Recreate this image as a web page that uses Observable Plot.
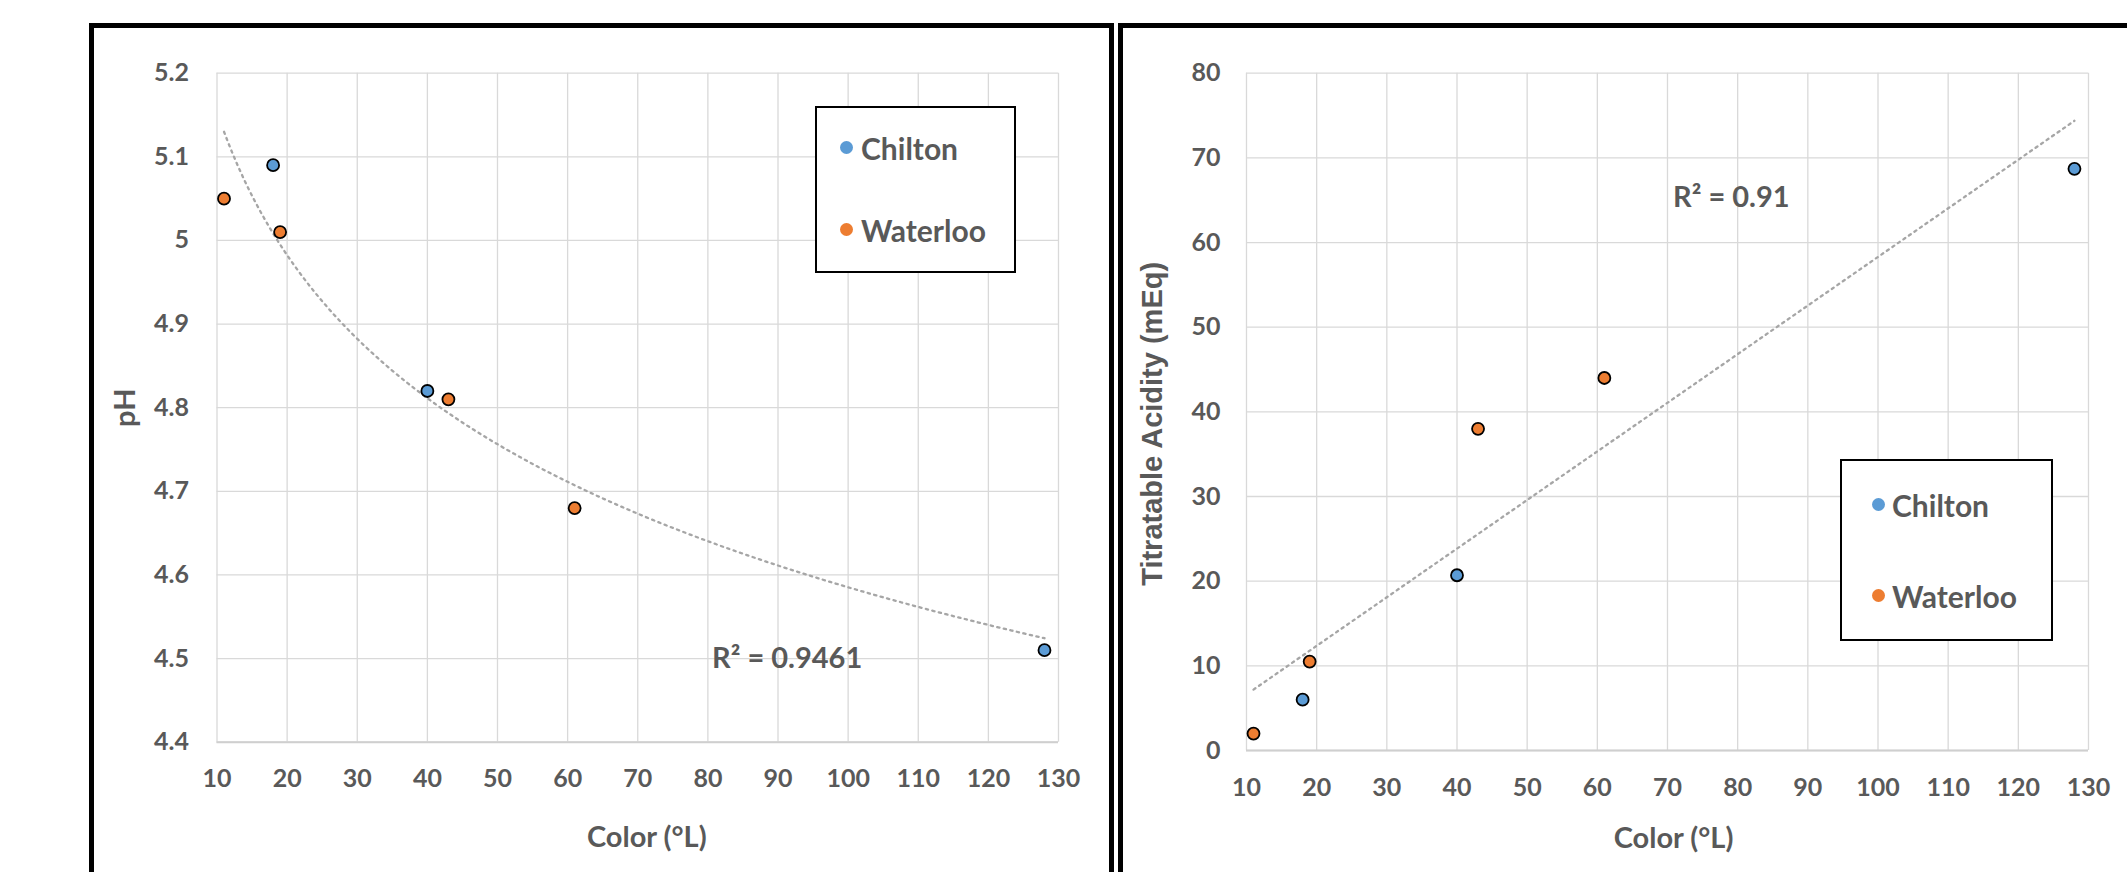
<!DOCTYPE html>
<html><head><meta charset="utf-8">
<script src="https://cdn.jsdelivr.net/npm/d3@7"></script>
<script src="https://cdn.jsdelivr.net/npm/@observablehq/plot@0.6"></script>
<style>
html,body{margin:0;padding:0;background:#fff;}
#page{position:relative;width:2127px;height:872px;overflow:hidden;background:#fff;}
.panel{position:absolute;border:5px solid #000;box-sizing:border-box;}
.chart{position:absolute;top:0;}
.legend{position:absolute;border:2.5px solid #000;background:#fff;box-sizing:border-box;}
.item{position:absolute;height:40px;display:flex;align-items:center;font:bold 30px Lato, sans-serif;color:#595959;white-space:nowrap;}
.swatch{width:13px;height:13px;border-radius:50%;flex:none;}
.ta-title text{font-family:"Liberation Sans", Arial, sans-serif !important;}
</style></head><body>
<div id="page">
  <div class="panel" style="left:89px;top:23px;width:1025px;height:900px;"></div>
  <div class="panel" style="left:1118px;top:23px;width:1100px;height:900px;"></div>
  <div id="left" class="chart" style="left:0px;"></div>
  <div id="right" class="chart" style="left:1123px;"></div>
  <div id="legL" class="legend" style="left:815px;top:106px;width:201px;height:167px;"></div>
  <div id="legR" class="legend" style="left:1840px;top:459px;width:213px;height:182px;"></div>
</div>
<script>
// ---- data ----
const seriesNames = ["Chilton", "Waterloo"];
const seriesColors = ["#5B9BD5", "#ED7D31"];
const chiltonColor = [18, 40, 128];
const chiltonPH = [5.09, 4.82, 4.51];
const chiltonTA = [6.0, 20.7, 68.7];
const waterlooColor = [11, 19, 43, 61];
const waterlooPH = [5.05, 5.01, 4.81, 4.68];
const waterlooTA = [2.0, 10.5, 38.0, 44.0];
const colorTicks = [10, 20, 30, 40, 50, 60, 70, 80, 90, 100, 110, 120, 130];
const phTicks = [4.4, 4.5, 4.6, 4.7, 4.8, 4.9, 5.0, 5.1, 5.2];
const taTicks = [0, 10, 20, 30, 40, 50, 60, 70, 80];
const xTitle = "Color (°L)";
const phTitle = "pH";
const taTitle = "Titratable Acidity (mEq)";
const r2PH = "R² = 0.9461";
const r2TA = "R² = 0.91";
// annotation anchors in data units
const r2PHAt = {x: 91.3, y: 4.5};
const r2TAAt = {x: 79.1, y: 65.3};

// ---- tables ----
const rows = [
  ...chiltonColor.map((c, i) => ({series: "Chilton", color: c, ph: chiltonPH[i], ta: chiltonTA[i]})),
  ...waterlooColor.map((c, i) => ({series: "Waterloo", color: c, ph: waterlooPH[i], ta: waterlooTA[i]}))
];

// logarithmic trendline (least squares on ln x), evaluated over data range
function logFit(data, xk, yk) {
  const lx = data.map(d => Math.log(d[xk])), ys = data.map(d => d[yk]);
  const mx = d3.mean(lx), my = d3.mean(ys);
  let sxy = 0, sxx = 0;
  lx.forEach((v, i) => { sxy += (v - mx) * (ys[i] - my); sxx += (v - mx) ** 2; });
  const b = sxy / sxx, a = my - b * mx;
  return x => a + b * Math.log(x);
}
const fPH = logFit(rows, "color", "ph");
const [xmin, xmax] = d3.extent(rows, d => d.color);
const trendPH = d3.range(0, 201).map(i => {
  const x = xmin + (xmax - xmin) * i / 200;
  return {color: x, ph: fPH(x)};
});

const grey = "#595959";
const gridColor = "#d9d9d9";
const trendStyle = {stroke: "#a6a6a6", strokeWidth: 2.3, strokeDasharray: "2.3 4.4"};
const baseStyle = {fontFamily: "Lato, sans-serif", fontSize: "25px", fontWeight: "bold", color: grey, background: "transparent", overflow: "visible"};

const left = Plot.plot({
  width: 1109, height: 872,
  marginLeft: 216.5, marginRight: 51, marginTop: 72.7, marginBottom: 130.3,
  style: baseStyle,
  x: {domain: [10, 130]},
  y: {domain: [4.4, 5.2]},
  color: {domain: seriesNames, range: seriesColors},
  marks: [
    Plot.gridX(colorTicks, {stroke: gridColor, strokeOpacity: 1, strokeWidth: 1.3}),
    Plot.gridY(phTicks, {stroke: gridColor, strokeOpacity: 1, strokeWidth: 1.3}),
    Plot.ruleY([phTicks[0]], {stroke: "#cfcfcf", strokeWidth: 2}),
    Plot.axisX({ticks: colorTicks, tickSize: 0, tickPadding: 27, label: null, fontSize: 25, fontWeight: "bold", fill: grey}),
    Plot.axisY({ticks: phTicks, tickSize: 0, tickPadding: 28, label: null, fontSize: 25, fontWeight: "bold", fill: grey, tickFormat: d => String(+d.toFixed(1))}),
    Plot.line(trendPH, {x: "color", y: "ph", ...trendStyle}),
    Plot.dot(rows, {x: "color", y: "ph", fill: "series", r: 6, stroke: "#000", strokeWidth: 1.8}),
    Plot.text([r2PH], {x: r2PHAt.x, y: r2PHAt.y, text: d => d, fontSize: 29, fontWeight: "bold", fill: grey}),
    Plot.text([xTitle], {frameAnchor: "bottom", textAnchor: "middle", dx: 9, dy: 105, text: d => d, fontSize: 29, fontWeight: "bold", fill: grey}),
    Plot.text([phTitle], {frameAnchor: "left", textAnchor: "middle", dx: -91, rotate: -90, text: d => d, fontSize: 29, fontWeight: "bold", fill: grey})
  ]
});
document.getElementById("left").appendChild(left);

const right = Plot.plot({
  width: 1004, height: 872,
  marginLeft: 123, marginRight: 39, marginTop: 72.7, marginBottom: 122,
  style: baseStyle,
  x: {domain: [10, 130]},
  y: {domain: [0, 80]},
  color: {domain: seriesNames, range: seriesColors},
  marks: [
    Plot.gridX(colorTicks, {stroke: gridColor, strokeOpacity: 1, strokeWidth: 1.3}),
    Plot.gridY(taTicks, {stroke: gridColor, strokeOpacity: 1, strokeWidth: 1.3}),
    Plot.ruleY([taTicks[0]], {stroke: "#cfcfcf", strokeWidth: 2}),
    Plot.axisX({ticks: colorTicks, tickSize: 0, tickPadding: 28, label: null, fontSize: 25, fontWeight: "bold", fill: grey}),
    Plot.axisY({ticks: taTicks, tickSize: 0, tickPadding: 26, label: null, fontSize: 25, fontWeight: "bold", fill: grey}),
    Plot.linearRegressionY(rows, {x: "color", y: "ta", ci: 0, ...trendStyle}),
    Plot.dot(rows, {x: "color", y: "ta", fill: "series", r: 6, stroke: "#000", strokeWidth: 1.8}),
    Plot.text([r2TA], {x: r2TAAt.x, y: r2TAAt.y, text: d => d, fontSize: 29, fontWeight: "bold", fill: grey}),
    Plot.text([xTitle], {frameAnchor: "bottom", textAnchor: "middle", dx: 6, dy: 97, text: d => d, fontSize: 29, fontWeight: "bold", fill: grey}),
    Plot.text([taTitle], {frameAnchor: "left", textAnchor: "middle", dx: -94, dy: 12, rotate: -90, text: d => d, fontSize: 29, fontWeight: "bold", fontFamily: "Liberation Sans", fill: grey, className: "ta-title"})
  ]
});
document.getElementById("right").appendChild(right);

// ---- legends (HTML) ----
function legend(el, dotLeft, gap, tops) {
  seriesNames.forEach((name, i) => {
    const item = document.createElement("div");
    item.className = "item";
    item.style.left = dotLeft + "px";
    item.style.top = tops[i] + "px";
    const sw = document.createElement("span");
    sw.className = "swatch";
    sw.style.background = seriesColors[i];
    sw.style.marginRight = gap + "px";
    item.appendChild(sw);
    item.appendChild(document.createTextNode(name));
    el.appendChild(item);
  });
}
legend(document.getElementById("legL"), 23, 8, [19.5, 101.5]);
legend(document.getElementById("legR"), 30, 7, [23.5, 114.5]);
</script>
</body></html>
